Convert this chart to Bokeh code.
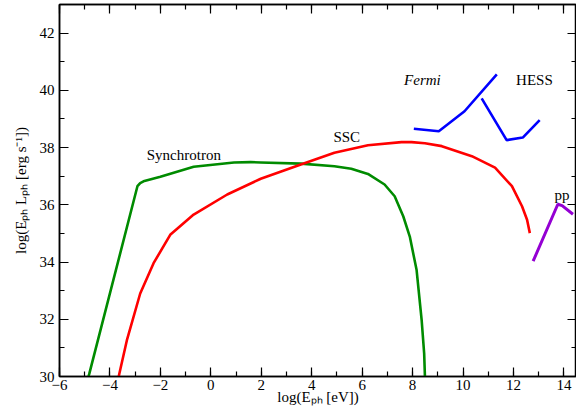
from bokeh.plotting import figure
from bokeh.models import LinearAxis, SingleIntervalTicker, CustomJSTickFormatter, ColumnDataSource
from bokeh.core.properties import value
from bokeh.embed import file_html
from bokeh.resources import INLINE

# Synchrotron (green)
sync_x = [-4.85, -4.82, -2.91, -2.80, -2.67, -2.0, -0.68, 0.92, 1.58, 1.98, 3.57, 4.9, 5.57, 6.23,
          6.89, 7.29, 7.63, 7.89, 8.16, 8.36, 8.46, 8.49]
sync_y = [30.0, 30.09, 36.65, 36.76, 36.82, 36.98, 37.33, 37.48, 37.49, 37.48, 37.44, 37.35, 37.26, 37.08,
          36.71, 36.30, 35.60, 34.89, 33.72, 31.97, 30.80, 30.0]

# SSC (red)
ssc_x = [-3.65, -3.63, -3.33, -2.80, -2.27, -1.61, -0.68, 0.65, 1.98, 3.57, 4.9, 6.23, 7.56, 7.96,
         8.49, 9.16, 10.35, 11.27, 11.94, 12.34, 12.54, 12.65]
ssc_y = [30.0, 30.09, 31.26, 32.90, 33.96, 34.95, 35.66, 36.36, 36.91, 37.41, 37.82, 38.08, 38.19, 38.19,
         38.15, 38.05, 37.70, 37.30, 36.65, 35.95, 35.48, 35.01]

# Fermi (blue)
fermi_x = [8.05, 9.04, 10.06, 11.34]
fermi_y = [38.66, 38.57, 39.27, 40.56]

# HESS (blue)
hess_x = [10.74, 11.73, 12.37, 13.04]
hess_y = [39.72, 38.26, 38.35, 38.96]

# pp (violet)
pp_x = [12.78, 13.76, 13.93, 14.36]
pp_y = [34.03, 36.02, 35.97, 35.67]

# Annotations
label_text = ["Synchrotron", "SSC", "HESS", "pp"]
label_x = [-1.07, 5.39, 12.83, 13.93]
label_y = [37.73, 38.38, 40.37, 36.36]
fermi_label = ["Fermi"]
fermi_label_x = [8.39]
fermi_label_y = [40.37]

FONT = "Liberation Serif"

p = figure(width=576, height=407, x_range=(-6, 14.5), y_range=(30, 43.0),
           output_backend="svg", toolbar_location=None,
           min_border_left=59, min_border_right=0, min_border_top=4, min_border_bottom=0,
           x_axis_label="log(Eₚₕ [eV])", y_axis_label="log(Eₚₕ Lₚₕ [erg s⁻¹])")
p.grid.visible = False
p.outline_line_color = "black"
p.outline_line_width = 1.5
p.background_fill_color = "white"
p.border_fill_color = "white"

def style_axis(ax, show_labels):
    ax.ticker = SingleIntervalTicker(interval=2, num_minor_ticks=2)
    ax.major_tick_in = 9
    ax.major_tick_out = 0
    ax.minor_tick_in = 5
    ax.minor_tick_out = 0
    ax.major_tick_line_color = "black"
    ax.minor_tick_line_color = "black"
    ax.major_tick_line_width = 1.2
    ax.minor_tick_line_width = 1.2
    ax.axis_line_color = "black"
    ax.axis_line_width = 1.5
    ax.major_label_text_font = FONT
    ax.major_label_text_font_size = "15px"
    ax.major_label_text_color = "black"
    ax.axis_label_text_font = FONT
    ax.axis_label_text_font_size = "15px"
    ax.axis_label_text_font_style = "normal"
    ax.axis_label_text_color = "black"
    if not show_labels:
        ax.formatter = CustomJSTickFormatter(code="return ''")
        ax.major_label_standoff = 0
        ax.major_label_text_font_size = "1px"

style_axis(p.xaxis[0], True)
style_axis(p.yaxis[0], True)
p.xaxis[0].major_label_standoff = 3
p.xaxis[0].axis_label_standoff = -4
p.yaxis[0].major_label_standoff = 5
p.yaxis[0].axis_label_standoff = 8

top_ax = LinearAxis()
style_axis(top_ax, False)
p.add_layout(top_ax, "above")
right_ax = LinearAxis()
style_axis(right_ax, False)
p.add_layout(right_ax, "right")

p.line(sync_x, sync_y, line_color="#008b00", line_width=2.6)
p.line(ssc_x, ssc_y, line_color="#ff0000", line_width=2.6)
p.line(fermi_x, fermi_y, line_color="#0000ff", line_width=2.6)
p.line(hess_x, hess_y, line_color="#0000ff", line_width=2.6)
p.line(pp_x, pp_y, line_color="#9400d3", line_width=3)

src = ColumnDataSource(dict(x=label_x, y=label_y, t=label_text))
p.text(x="x", y="y", text="t", source=src, text_font=value(FONT), text_font_size="15px",
       text_align="center", text_baseline="middle", text_color="black")
fsrc = ColumnDataSource(dict(x=fermi_label_x, y=fermi_label_y, t=fermi_label))
p.text(x="x", y="y", text="t", source=fsrc, text_font=value(FONT), text_font_size="15px",
       text_font_style="italic", text_align="center", text_baseline="middle", text_color="black")

open("out.html", "w").write(file_html(p, INLINE))
